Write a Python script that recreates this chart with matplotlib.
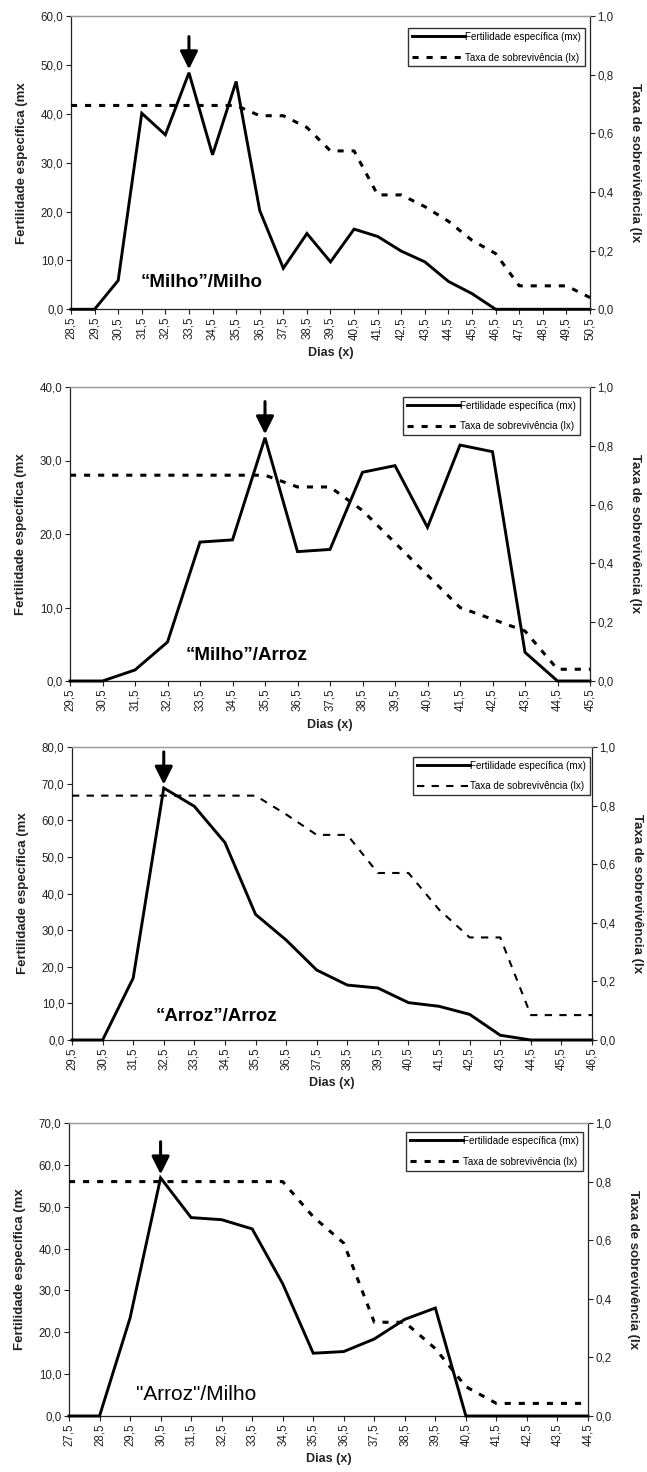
import matplotlib
matplotlib.use('Agg')
import matplotlib.pyplot as plt
from matplotlib.ticker import FuncFormatter, FixedLocator, MultipleLocator

plt.rcParams['font.family'] = ['Liberation Sans', 'DejaVu Sans']

# ---------------- data ----------------
# Panel 1: "Milho"/Milho
p1_days = [28.5, 29.5, 30.5, 31.5, 32.5, 33.5, 34.5, 35.5, 36.5, 37.5, 38.5, 39.5,
           40.5, 41.5, 42.5, 43.5, 44.5, 45.5, 46.5, 47.5, 48.5, 49.5, 50.5]
p1_mx = [0.0, 0.0, 5.9, 40.1, 35.7, 48.4, 31.6, 46.6, 20.2, 8.4, 15.5, 9.7,
         16.4, 14.9, 11.9, 9.7, 5.7, 3.2, 0.0, 0.0, 0.0, 0.0, 0.0]
p1_lx = [0.695, 0.695, 0.695, 0.695, 0.695, 0.695, 0.695, 0.695, 0.66, 0.66, 0.62, 0.54,
         0.54, 0.39, 0.39, 0.35, 0.30, 0.235, 0.19, 0.08, 0.08, 0.08, 0.04]

# Panel 2: "Milho"/Arroz
p2_days = [29.5, 30.5, 31.5, 32.5, 33.5, 34.5, 35.5, 36.5, 37.5, 38.5, 39.5, 40.5,
           41.5, 42.5, 43.5, 44.5, 45.5]
p2_mx = [0.0, 0.0, 1.5, 5.3, 18.9, 19.2, 33.1, 17.6, 17.9, 28.4, 29.3, 20.9,
         32.1, 31.2, 3.9, 0.0, 0.0]
p2_lx = [0.70, 0.70, 0.70, 0.70, 0.70, 0.70, 0.70, 0.66, 0.66, 0.58, 0.47, 0.36,
         0.25, 0.21, 0.17, 0.04, 0.04]

# Panel 3: "Arroz"/Arroz
p3_days = [29.5, 30.5, 31.5, 32.5, 33.5, 34.5, 35.5, 36.5, 37.5, 38.5, 39.5, 40.5,
           41.5, 42.5, 43.5, 44.5, 45.5, 46.5]
p3_mx = [0.0, 0.0, 16.9, 68.8, 63.8, 53.9, 34.3, 27.3, 19.1, 15.0, 14.2, 10.2,
         9.2, 7.0, 1.3, 0.0, 0.0, 0.0]
p3_lx = [0.834, 0.834, 0.834, 0.834, 0.834, 0.834, 0.834, 0.77, 0.70, 0.70, 0.57, 0.57,
         0.445, 0.35, 0.35, 0.085, 0.085, 0.085]

# Panel 4: "Arroz"/Milho
p4_days = [27.5, 28.5, 29.5, 30.5, 31.5, 32.5, 33.5, 34.5, 35.5, 36.5, 37.5, 38.5,
           39.5, 40.5, 41.5, 42.5, 43.5, 44.5]
p4_mx = [0.0, 0.0, 23.4, 56.9, 47.4, 46.9, 44.7, 31.6, 15.0, 15.4, 18.4, 23.1,
         25.8, 0.0, 0.0, 0.0, 0.0, 0.0]
p4_lx = [0.80, 0.80, 0.80, 0.80, 0.80, 0.80, 0.80, 0.80, 0.68, 0.59, 0.32, 0.32,
         0.23, 0.10, 0.043, 0.043, 0.043, 0.043]

titles = ['\u201cMilho\u201d/Milho', '\u201cMilho\u201d/Arroz',
          '\u201cArroz\u201d/Arroz', '"Arroz"/Milho']
mx_max = [60, 40, 80, 70]
mx_step = [10, 10, 10, 10]

legend_mx = 'Fertilidade espec\u00edfica (mx)'
legend_lx = 'Taxa de sobreviv\u00eancia (lx)'
ylabel_left = 'Fertilidade espec\u00edfica (mx'
ylabel_right = 'Taxa de sobreviv\u00eancia (lx'
xlabel = 'Dias (x)'

# ---------------- layout / style ----------------
W, H = 647, 1472
fig = plt.figure(figsize=(W / 100, H / 100), dpi=100)

# axes boxes in pixels: left, right, top, bottom
boxes = [(71, 590, 16, 309.3), (70, 590, 387, 681),
         (72, 592, 747, 1040), (69, 588, 1123, 1416)]
title_pos = [(0.252, 0.093), (0.34, 0.088), (0.277, 0.080), (0.245, 0.072)]
title_bold = [True, True, True, False]
title_size = [13.5, 13.5, 13.5, 15]
leg_anchor = [(0.99, 0.96), (0.981, 0.967), (0.996, 0.967), (0.99, 0.970)]
lx_styles = [dict(lw=2.2, ls=(0, (2.0, 2.6))), dict(lw=2.2, ls=(0, (2.0, 2.6))),
             dict(lw=1.5, ls=(0, (3.5, 3.5))), dict(lw=2.2, ls=(0, (2.0, 2.6)))]

datasets = [(p1_days, p1_mx, p1_lx), (p2_days, p2_mx, p2_lx),
            (p3_days, p3_mx, p3_lx), (p4_days, p4_mx, p4_lx)]

dark = '#222222'
comma1 = FuncFormatter(lambda v, p: ('%.1f' % v).replace('.', ','))

for i, ((days, mx, lx), (l, r, t, b)) in enumerate(zip(datasets, boxes)):
    ax = fig.add_axes([l / W, 1 - b / H, (r - l) / W, (b - t) / H])
    ax2 = ax.twinx()

    h1, = ax.plot(days, mx, color='black', lw=2.1, solid_joinstyle='miter', zorder=3,
                  clip_on=False)
    h2, = ax2.plot(days, lx, color='black', dash_capstyle='butt', zorder=3,
                   clip_on=False, **{'lw': lx_styles[i]['lw'], 'ls': lx_styles[i]['ls']})

    ax.set_xlim(days[0], days[-1])
    ax.set_ylim(0, mx_max[i])
    ax2.set_ylim(0, 1)
    ax.xaxis.set_major_locator(FixedLocator(days))
    ax.xaxis.set_major_formatter(comma1)
    ax.yaxis.set_major_locator(MultipleLocator(mx_step[i]))
    ax.yaxis.set_major_formatter(comma1)
    ax2.yaxis.set_major_locator(MultipleLocator(0.2))
    ax2.yaxis.set_major_formatter(comma1)

    for a in (ax, ax2):
        a.tick_params(direction='out', length=3.5, width=0.8, colors=dark,
                      labelsize=8.3, labelcolor=dark, pad=2)
        for s in a.spines.values():
            s.set_linewidth(0.9)
            s.set_color(dark)
        a.spines['top'].set_color('#9a9a9a')
    ax.tick_params(axis='x', labelrotation=90, pad=2)
    ax2.spines['left'].set_visible(False)
    ax2.spines['bottom'].set_visible(False)
    ax.spines['right'].set_visible(False)
    ax.set_facecolor('none')

    # axis labels
    ax.text(0.5, -0.148, xlabel, transform=ax.transAxes, ha='center', va='center',
            fontsize=9, fontweight='bold', color=dark)
    ax.text(-0.094, 0.5, ylabel_left, transform=ax.transAxes, ha='center', va='center',
            rotation=90, fontsize=9.5, fontweight='bold', color=dark)
    ax.text(1.087, 0.5, ylabel_right, transform=ax.transAxes, ha='center', va='center',
            rotation=270, fontsize=9.5, fontweight='bold', color=dark)

    # treatment label
    tx, ty = title_pos[i]
    ax.text(tx, ty, titles[i], transform=ax.transAxes, ha='center', va='center',
            fontsize=title_size[i], fontweight='bold' if title_bold[i] else 'normal',
            color='black', zorder=5)

    # arrow at the peak of mx
    k = max(range(len(mx)), key=lambda j: mx[j])
    ax2.annotate('', xy=(days[k], mx[k] / mx_max[i]), xycoords='data',
                 xytext=(0, 26), textcoords='offset points',
                 arrowprops=dict(arrowstyle='-|>', color='black', lw=2.2,
                                 mutation_scale=27, shrinkA=0, shrinkB=2.5),
                 zorder=6)

    leg = ax2.legend([h1, h2], [legend_mx, legend_lx], loc='upper right',
                     bbox_to_anchor=leg_anchor[i], borderaxespad=0, fontsize=7.1,
                     frameon=True, fancybox=False, edgecolor='black',
                     handlelength=5.4, handletextpad=0.0, borderpad=0.4,
                     labelspacing=1.1)
    leg.get_frame().set_linewidth(1.0)
    leg.set_zorder(10)

fig.savefig('out.png', dpi=100)
